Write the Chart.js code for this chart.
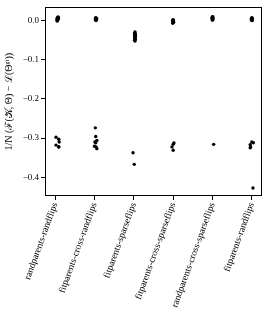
<!DOCTYPE html>
<html>
<head>
<meta charset="utf-8">
<script src="https://cdn.jsdelivr.net/npm/chart.js@4"></script>
<style>
  body { margin: 0; background: #fff; }
</style>
</head>
<body>
<canvas id="lossChart" width="266" height="332"></canvas>
<script>
const categories = ['randparents-randflips', 'fitparents-cross-randflips', 'fitparents-sparseflips',
    'fitparents-cross-sparseflips', 'randparents-cross-sparseflips', 'fitparents-randflips'];

// values per category (near-zero runs, then the outliers around -0.3)
const randparentsRandflips = [0.008, 0.007, 0.006, 0.005, 0.005, 0.004, 0.003, 0.003, 0.002, 0.001, 0.000, -0.001, -0.002,
    -0.298, -0.303, -0.310, -0.318, -0.322, -0.323];
const fitparentsCrossRandflips = [0.006, 0.005, 0.004, 0.003, 0.002, 0.002, 0.001, 0.000, -0.001,
    -0.274, -0.296, -0.306, -0.310, -0.312, -0.321, -0.3225, -0.327];
const fitparentsSparseflips = [-0.030, -0.033, -0.035, -0.037, -0.039, -0.041, -0.043, -0.045, -0.047, -0.049, -0.051, -0.053,
    -0.3375, -0.367];
const fitparentsCrossSparseflips = [0.001, 0.000, -0.002, -0.003, -0.004, -0.005, -0.006, -0.008,
    -0.3125, -0.316, -0.3225, -0.331];
const randparentsCrossSparseflips = [0.009, 0.008, 0.007, 0.006, 0.005, 0.004, 0.003, 0.002, 0.000,
    -0.316];
const fitparentsRandflips = [0.006, 0.005, 0.004, 0.003, 0.002, 0.001, 0.000, -0.001,
    -0.310, -0.312, -0.317, -0.3225, -0.325, -0.427];

// strip-plot jitter (category units), one per value
const jitter0 = [0.07, 0.08, 0.06, 0.07, 0.05, 0.08, 0.06, 0.07, 0.05, 0.06, 0.05, 0.06, 0.05, 0.02, 0.09, 0.10, 0.02, 0.09, 0.09];
const jitter1 = [0.03, 0.05, 0.04, 0.02, 0.05, 0.03, 0.04, 0.03, 0.04, 0.02, 0.03, 0.06, 0.01, 0.03, 0.00, 0.04, 0.06];
const jitter2 = [0.03, 0.02, 0.04, 0.03, 0.02, 0.04, 0.03, 0.02, 0.04, 0.03, 0.02, 0.03, -0.02, 0.01];
const jitter3 = [0.00, -0.01, 0.01, 0.00, -0.01, 0.01, 0.00, -0.01, 0.02, 0.00, -0.03, 0.00];
const jitter4 = [0.00, 0.01, -0.01, 0.00, 0.01, -0.01, 0.00, 0.01, 0.00, 0.03];
const jitter5 = [0.00, 0.01, -0.01, 0.00, 0.01, -0.01, 0.00, 0.01, 0.00, 0.04, -0.04, -0.03, -0.04, 0.03];

const yTicks = [-0.4, -0.3, -0.2, -0.1, 0.0];

const allValues = [randparentsRandflips, fitparentsCrossRandflips, fitparentsSparseflips,
    fitparentsCrossSparseflips, randparentsCrossSparseflips, fitparentsRandflips];
const allJitter = [jitter0, jitter1, jitter2, jitter3, jitter4, jitter5];

const points = [];
allValues.forEach(function (vals, i) {
    vals.forEach(function (v, j) {
        points.push({ x: i + allJitter[i][j], y: v });
    });
});

// frame around the plot area
const frame = {
    id: 'frame',
    afterDraw(chart) {
        const a = chart.chartArea;
        const c = chart.ctx;
        c.save();
        c.strokeStyle = '#000';
        c.lineWidth = 1;
        c.strokeRect(Math.round(a.left) + 0.5, Math.round(a.top) + 0.5,
            Math.round(a.right - a.left) - 1, Math.round(a.bottom - a.top) - 1);
        c.restore();
    }
};

const serif = "'Liberation Serif', 'DejaVu Serif', serif";

const ctx = document.getElementById('lossChart').getContext('2d');
new Chart(ctx, {
    type: 'scatter',
    data: {
        datasets: [{
            data: points,
            backgroundColor: '#000',
            borderWidth: 0,
            pointRadius: 1.7
        }]
    },
    options: {
        responsive: false,
        animation: false,
        layout: { padding: { top: 3, right: 4, left: 0, bottom: 0 } },
        plugins: {
            legend: { display: false },
            tooltip: { enabled: false }
        },
        scales: {
            x: {
                type: 'linear',
                min: -0.26,
                max: 5.26,
                afterBuildTicks: function (scale) {
                    scale.ticks = categories.map(function (c, i) { return { value: i }; });
                },
                afterFit: function (scale) { scale.height = 136; },
                grid: { drawOnChartArea: false, drawTicks: true, tickLength: 4, color: '#000' },
                border: { display: false },
                ticks: {
                    autoSkip: false,
                    minRotation: 70,
                    maxRotation: 70,
                    padding: 1,
                    color: '#000',
                    font: { family: serif, size: 9.5 },
                    callback: function (v) { return categories[v]; }
                }
            },
            y: {
                min: -0.4475,
                max: 0.0325,
                afterBuildTicks: function (scale) {
                    scale.ticks = yTicks.map(function (v) { return { value: v }; });
                },
                afterFit: function (scale) { scale.width = 45; },
                grid: { drawOnChartArea: false, drawTicks: true, tickLength: 4, color: '#000' },
                border: { display: false },
                ticks: {
                    padding: 2,
                    color: '#000',
                    font: { family: serif, size: 9 },
                    callback: function (v) { return (v < 0 ? '\u2212' : '') + Math.abs(v).toFixed(1); }
                },
                title: {
                    display: true,
                    text: '1/N (\u2131(\uD835\uDCA6, \u0398) \u2212 \u2112(\u0398\u1D4D\u1D57))',
                    color: '#000',
                    font: { family: serif, size: 10 },
                    padding: { top: 3, bottom: 0 }
                }
            }
        }
    },
    plugins: [frame]
});
</script>
</body>
</html>
